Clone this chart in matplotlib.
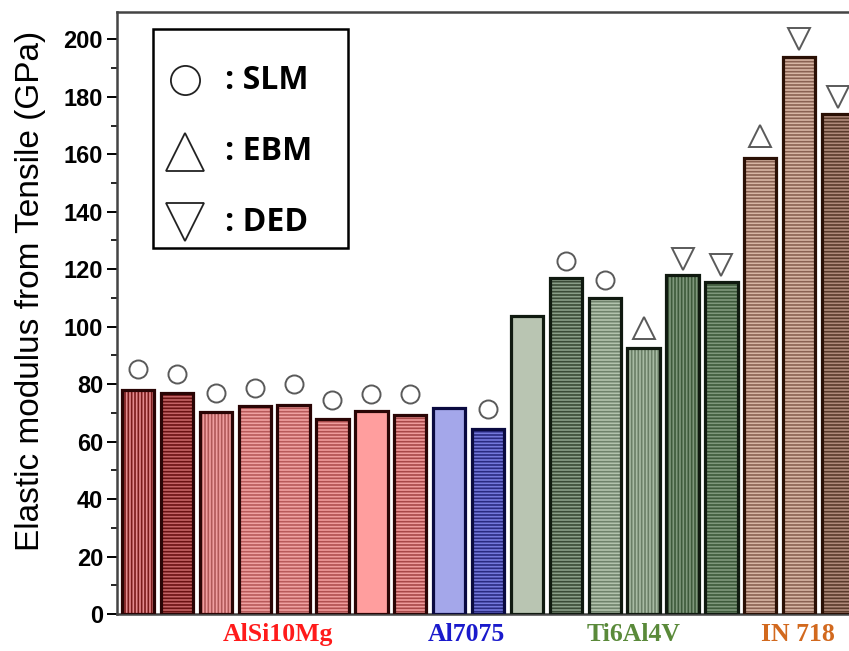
import numpy as np
import matplotlib
matplotlib.use("Agg")
import matplotlib.pyplot as plt
from matplotlib.patches import Rectangle
from matplotlib.ticker import MultipleLocator

# elastic modulus (GPa) of each bar, left to right
modulus = [77.8, 77.0, 70.3, 72.3, 72.6, 67.8, 70.6, 69.2, 71.6, 64.3,
           103.8, 116.8, 109.8, 92.6, 118.0, 115.7, 158.8, 193.9, 174.0]
# process marker drawn above each bar (None = no marker) and its height
process = ['SLM', 'SLM', 'SLM', 'SLM', 'SLM', 'SLM', 'SLM', 'SLM', None, 'SLM',
           None, 'SLM', 'SLM', 'EBM', 'DED', 'DED', 'EBM', 'DED', 'DED']
marker_level = [85.4, 83.6, 77.0, 78.8, 80.2, 74.3, 76.4, 76.4, None, 71.2,
                None, 123.0, 116.3, 99.7, 123.7, 121.5, 166.3, 200.0, 180.0]

# bar styles: face colour, hatch line colour, hatch pattern
faces = ['#e48a8e', '#c46466', '#f09ea0', '#f0a2a2', '#f0a2a2', '#ef9c9c', '#ff9e9e', '#ef9c9c',
         '#a4a7ea', '#7478dc',
         '#b9c5b2', '#8a9e88', '#b3c4ae', '#a8bba4', '#7f987c', '#7f987c',
         '#d8b6a4', '#d8b6a4', '#b08b7b']
hatch_cols = ['#7a1a1a', '#6a1212', '#b05858', '#b85a5a', '#b85a5a', '#b05050', None, '#a84848',
              None, '#2a2a80',
              None, '#3a4a36', '#6f826b', '#6a7e66', '#3e5a3b', '#3e5a3b',
              '#8a6252', '#8a6252', '#5a3a2a']
hatches = ['|||||', '-----', '|||||', '-----', '-----', '-----', '', '-----',
           '', '-----',
           '', '-----', '-----', '|||||', '|||||', '-----',
           '-----', '-----', '-----']
edge_cols = ['#2a0505'] * 8 + ['#0a0a40'] * 2 + ['#101a10'] * 6 + ['#2a1005'] * 3

groups = ['AlSi10Mg', 'Al7075', 'Ti6Al4V', 'IN 718']
group_colors = ['#ff1a1a', '#1a1acc', '#5a8a3a', '#d2691e']
group_label_x = [3.6, 8.45, 12.75, 16.97]

marker_shape = {'SLM': 'o', 'EBM': '^', 'DED': 'v'}
marker_size = {'SLM': 13, 'EBM': 16, 'DED': 16}

plt.rcParams['hatch.linewidth'] = 1.2

fig = plt.figure(figsize=(8.49, 6.51), dpi=100)
ax = fig.add_axes([117 / 849, 37 / 651, 732 / 849, 602 / 651])

x = np.arange(len(modulus))
for i in range(len(modulus)):
    hc = hatch_cols[i] if hatch_cols[i] else faces[i]
    ax.bar(x[i], modulus[i], width=0.83, color=faces[i], edgecolor=hc,
           hatch=hatches[i], linewidth=0, zorder=2)
    ax.bar(x[i], modulus[i], width=0.83, facecolor='none',
           edgecolor=edge_cols[i], linewidth=2.3, zorder=3)
    if process[i]:
        ax.plot(x[i], marker_level[i], marker=marker_shape[process[i]],
                ms=marker_size[process[i]], mfc='white', mec='#5a5a5a',
                mew=1.4, ls='none', zorder=4, clip_on=False)

ax.set_xlim(-0.54, 18.28)
ax.set_ylim(0, 209.5)
ax.set_xticks([])
ax.yaxis.set_major_locator(MultipleLocator(20))
ax.yaxis.set_minor_locator(MultipleLocator(10))
ax.tick_params(axis='y', which='major', direction='out', length=7, width=1.4,
               labelsize=17, pad=3)
ax.tick_params(axis='y', which='minor', direction='out', length=4, width=1.2)
for lbl in ax.get_yticklabels():
    lbl.set_fontweight('bold')
    lbl.set_fontfamily('Liberation Sans')

ax.spines['right'].set_visible(False)
for s in ['left', 'top', 'bottom']:
    ax.spines[s].set_color('#444444')
    ax.spines[s].set_linewidth(1.8)

ax.set_ylabel('Elastic modulus from Tensile (GPa)', fontsize=24,
              family='Liberation Sans')
ax.yaxis.set_label_coords(-0.097, 0.537)

# material group names under the axis
for gx, name, col in zip(group_label_x, groups, group_colors):
    ax.text(gx, -3, name, color=col, fontsize=18.5, fontweight='bold',
            family='Liberation Serif', ha='center', va='top', clip_on=False)

# process key box
ax.add_patch(Rectangle((0.049, 0.608), 0.267, 0.364, transform=ax.transAxes,
                       facecolor='white', edgecolor='black', linewidth=1.8, zorder=5))
key_y = [0.887, 0.768, 0.651]
for ky, name in zip(key_y, ['SLM', 'EBM', 'DED']):
    ms = 21 if name == 'SLM' else 27
    ax.plot(0.093, ky, marker=marker_shape[name], ms=ms, mfc='white', mec='#222222',
            mew=1.3, transform=ax.transAxes, zorder=6, clip_on=False)
    ax.text(0.148, ky, ': ' + name, transform=ax.transAxes, fontsize=23,
            fontweight='bold', family='Open Sans', va='center', ha='left', zorder=6)

fig.savefig('out.png', dpi=100)
